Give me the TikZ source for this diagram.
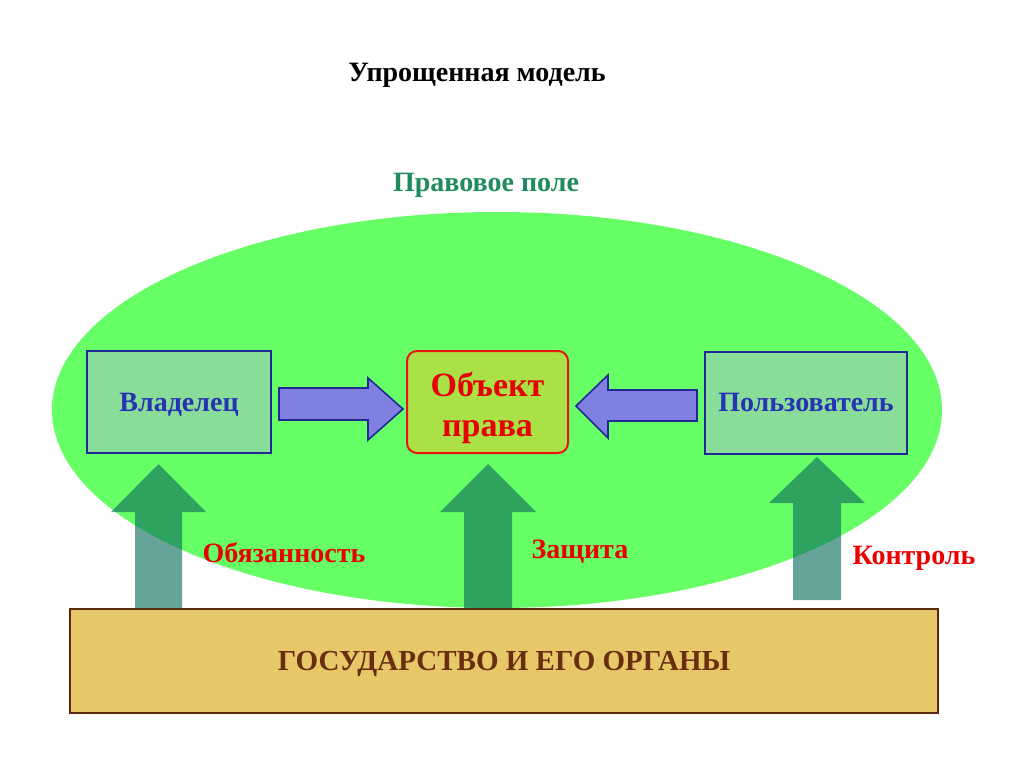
\documentclass[tikz,border=0pt]{standalone}
\usepackage{fontspec}
\setmainfont{Liberation Serif}
\begin{document}
\begin{tikzpicture}[x=1pt,y=-1pt,
  every node/.style={font=\bfseries},
  titletext/.style={font=\bfseries\fontsize{28}{32}\selectfont, text=black},
  fieldtext/.style={font=\bfseries\fontsize{28}{32}\selectfont, text=fieldteal},
  actor/.style={draw=actorborder, line width=2pt, fill=actorfill, minimum width=184pt, minimum height=102pt, text=actortext, text depth=0pt, font=\bfseries\fontsize{28}{32}\selectfont},
  objbox/.style={draw=objborder, line width=2pt, fill=objfill, rounded corners=10pt, minimum width=161pt, minimum height=102pt, text=objtext, font=\bfseries\fontsize{34}{40}\selectfont},
  statebox/.style={draw=stateborder, line width=2pt, fill=statefill, minimum width=868pt, minimum height=104pt, text=statetext, text depth=0pt, font=\bfseries\fontsize{29}{33}\selectfont},
  duty/.style={text=dutyred, font=\bfseries\fontsize{28}{32}\selectfont},
  bluearrow/.style={draw=actorborder, line width=1.6pt, fill=arrowblue, line join=miter},
  uparrow/.style={fill=uparrowc, fill opacity=0.63, draw=none}
]
\definecolor{fieldteal}{RGB}{30,140,95}
\definecolor{ellfill}{RGB}{102,255,102}
\definecolor{actorborder}{RGB}{30,40,150}
\definecolor{actorfill}{RGB}{136,221,153}
\definecolor{actortext}{RGB}{40,50,180}
\definecolor{objborder}{RGB}{230,20,20}
\definecolor{objfill}{RGB}{170,225,70}
\definecolor{objtext}{RGB}{230,0,0}
\definecolor{stateborder}{RGB}{90,40,10}
\definecolor{statefill}{RGB}{230,200,105}
\definecolor{statetext}{RGB}{105,45,15}
\definecolor{dutyred}{RGB}{235,0,0}
\definecolor{arrowblue}{RGB}{128,128,224}
\definecolor{uparrowc}{RGB}{14,110,92}

\useasboundingbox (0,0) rectangle (1024,767);
\fill[white] (0,0) rectangle (1024,767);

\node[titletext] (title) at (477,75) {Упрощенная модель};
\node[fieldtext] (field) at (486,185) {Правовое поле};

\fill[ellfill] (497,410) ellipse [x radius=445, y radius=198];

\node[actor] (owner) at (179,402) {Владелец};
\node[objbox] (obj) at (487.5,402) {\raisebox{-6pt}[\height][\depth]{\begin{tabular}{@{}c@{}}Объект\\права\end{tabular}}};
\node[actor, minimum width=202pt] (user) at (806,402.5) {Пользователь};

% right-pointing arrow owner -> object
\draw[bluearrow] (279,388) -- (368,388) -- (368,378) -- (403,409) -- (368,440) -- (368,420) -- (279,420) -- cycle;
% left-pointing arrow user -> object
\draw[bluearrow] (697,390) -- (608,390) -- (608,375) -- (576,406) -- (608,438) -- (608,421) -- (697,421) -- cycle;

% state box
\node[statebox] (state) at (504,661) {ГОСУДАРСТВО И ЕГО ОРГАНЫ};

% up arrows
\fill[uparrow] (135,608) -- (135,512) -- (111,512) -- (158.5,464) -- (206,512) -- (182,512) -- (182,608) -- cycle;
\fill[uparrow] (464,608) -- (464,512) -- (440,512) -- (488,464) -- (536,512) -- (512,512) -- (512,608) -- cycle;
\fill[uparrow] (793,600) -- (793,503) -- (769,503) -- (817,457) -- (865,503) -- (841,503) -- (841,600) -- cycle;

\node[duty] (l1) at (284,553) {Обязанность};
\node[duty] (l2) at (580,552) {Защита};
\node[duty] (l3) at (914,558) {Контроль};
\end{tikzpicture}
\end{document}
